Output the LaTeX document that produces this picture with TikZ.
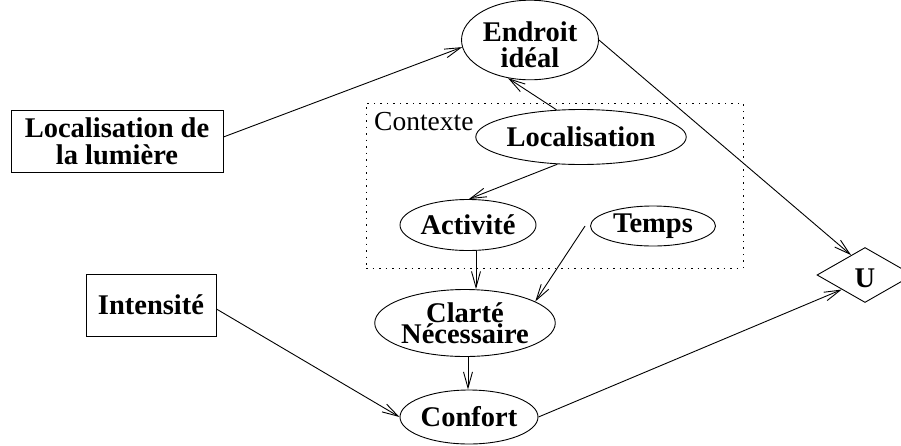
\documentclass[tikz,border=0pt]{standalone}
\usepackage{fontspec}
\setmainfont{Liberation Serif}
\usetikzlibrary{shapes.geometric,arrows.meta}
\tikzset{
  lw/.style={line width=0.9pt},
  ell/.style={ellipse, draw, lw, inner sep=0pt, align=center},
  rbox/.style={rectangle, draw, lw, inner sep=0pt, align=center},
  arr/.style={lw, -{Straight Barb[length=16pt,width=9pt]}},
}
\newcommand{\tightlines}{\lineskiplimit=-50pt\relax}
\begin{document}
\begin{tikzpicture}[x=1pt,y=-1pt,
  every node/.style={font=\fontsize{28.5}{26}\selectfont\bfseries}]
\useasboundingbox (0,0) rectangle (901,445);
% context box
\node[draw, lw, dash pattern=on 1.5pt off 5pt, minimum width=377pt, minimum height=165pt, inner sep=0pt] (ctx) at (554.5,185.5) {};
\node[anchor=base west, inner sep=0pt, font=\fontsize{27.5}{27.5}\selectfont] (ctxlabel) at (374,130) {Contexte};
% nodes
\node[ell, minimum width=137pt, minimum height=64pt] (endroit) at (530,40) {\rule{0pt}{30pt}Endroit\\idéal};
\node[ell, minimum width=185pt, minimum height=55pt] (loc) at (581,137) {Localisation};
\node[ell, minimum width=136pt, minimum height=51pt] (act) at (468,225) {Activité};
\node[ell, minimum width=125pt, minimum height=40pt] (temps) at (653,226) {Temps};
\node[ell, minimum width=168pt, minimum height=67pt, font=\fontsize{28.5}{21}\selectfont\bfseries\tightlines] (clarte) at (465,323) {Clarté\\Nécessaire};
\node[ell, minimum width=138pt, minimum height=54pt] (confort) at (469,417) {Confort};
\node[rbox, minimum width=212pt, minimum height=62pt, font=\fontsize{28.5}{27}\selectfont\bfseries] (loclum) at (117,141) {Localisation de\\la lumière};
\node[rbox, minimum width=130pt, minimum height=62pt] (intens) at (151,305) {Intensité};
\node[diamond, draw, lw, inner sep=0pt, minimum width=96pt, minimum height=55pt] (U) at (865,275) {\rule{0pt}{26pt}U};
% connectors
\draw[arr] ([yshift=4pt]loclum.east) -- (endroit.186);
\draw[arr] (loc.132) -- (endroit.240);
\draw[arr] (endroit.east) -- (U.125);
\draw[arr] (loc.229) -- (act.88);
\draw[arr] ([xshift=8pt]act.south) -- ([xshift=11pt]clarte.north);
\draw[arr] ([xshift=-5pt]temps.west) -- (clarte.17);
\draw[arr] ([yshift=-4pt]intens.east) -- (confort.west);
\draw[arr] ([xshift=3pt]clarte.south) -- ([xshift=-1pt]confort.north);
\draw[arr] (confort.east) -- (U.212);
\end{tikzpicture}
\end{document}
